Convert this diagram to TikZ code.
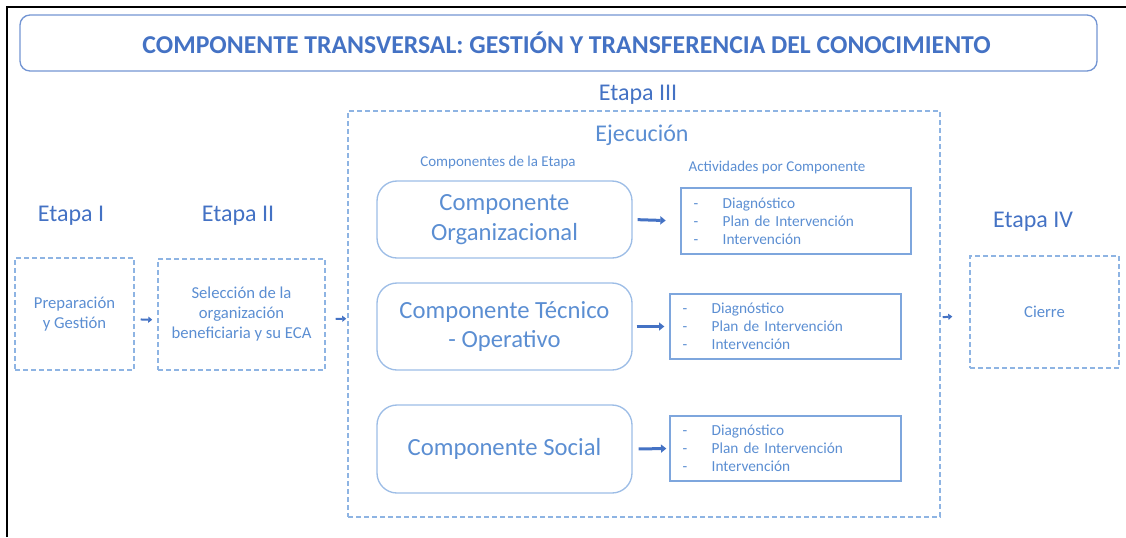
\documentclass[tikz,border=0pt]{standalone}
\usepackage{fontspec}
\setmainfont{Carlito}
\usetikzlibrary{arrows.meta}
\definecolor{ofblue}{HTML}{4472C4}
\definecolor{txblue}{HTML}{5B8ED2}
\definecolor{dashblue}{HTML}{8EB4E3}
\definecolor{lineblue}{HTML}{9DBDE6}
\definecolor{actblue}{HTML}{7EA6DD}
\tikzset{
  stagebox/.style={draw=dashblue,line width=1.1pt,dash pattern=on 3.75pt off 2.25pt,text=txblue,align=center,font=\fontsize{12.5}{15}\selectfont},
  compbox/.style={draw=lineblue,line width=1pt,rounded corners=15pt,minimum width=191.25pt,text=txblue,align=center,font=\fontsize{18.5}{22}\selectfont},
  actbox/.style={draw=actblue,line width=1pt,inner xsep=9.5pt,text=txblue,align=left,font=\fontsize{11.5}{13.5}\selectfont},
  stagelabel/.style={text=ofblue,font=\fontsize{18}{22}\selectfont},
  smalllabel/.style={text=txblue,font=\fontsize{11.25}{13}\selectfont},
  bigarrow/.style={ofblue,line width=2.25pt,-{Triangle[length=4pt,width=6pt]}},
  stagearrow/.style={ofblue,line width=1.5pt,-{Triangle[length=3pt,width=4.5pt]}}
}
\newcommand{\actlist}{\makebox[21.75pt][l]{-}Diagnóstico\\\makebox[21.75pt][l]{-}Plan de Intervención\\\makebox[21.75pt][l]{-}Intervención}
\begin{document}
\begin{tikzpicture}[x=0.75pt,y=-0.75pt]
\useasboundingbox (0,0) rectangle (1126,537);
\draw[line width=1.5pt] (7,537) -- (7,7) -- (1126,7);
\node[draw=ofblue!75,line width=1pt,rounded corners=7.5pt,minimum width=807.75pt,minimum height=42pt,text=ofblue,font=\bfseries\fontsize{19.3}{22}\selectfont] (title) at (558.5,43) {\hspace*{12pt}COMPONENTE TRANSVERSAL: GESTIÓN Y TRANSFERENCIA DEL CONOCIMIENTO};

\node[stagelabel] (l1) at (71,216) {Etapa I};
\node[stagelabel] (l2) at (238,216) {Etapa II};
\node[stagelabel] (l3) at (638,95) {Etapa III};
\node[stagelabel] (l4) at (1033,222) {Etapa IV};

\node[stagebox,minimum width=89.25pt,minimum height=84pt] (e1) at (74.5,314) {Preparación\\y Gestión};
\node[stagebox,minimum width=125.25pt,minimum height=83.25pt] (e2) at (241.5,314.5) {Selección de la\\organización\\beneficiaria y su ECA};
\node[stagebox,minimum width=444pt,minimum height=304.5pt] (e3) at (644,314) {};
\node[stagebox,minimum width=111.75pt,minimum height=84pt] (e4) at (1044.5,312) {Cierre};

\node[stagelabel,text=txblue] (ejec) at (642,135) {Ejecución};
\node[smalllabel] (lcomp) at (498,162) {Componentes de la Etapa};
\node[smalllabel] (lact) at (777,167) {Actividades por Componente};

\node[compbox,minimum height=57.75pt] (org) at (504.5,219.5) {Componente\\Organizacional};
\node[compbox,minimum height=65.25pt] (tec) at (504.5,326.5) {Componente Técnico\\- Operativo};
\node[compbox,minimum height=66pt] (soc) at (504.5,449) {Componente Social};

\node[actbox,text width=153.5pt,minimum height=49.5pt] (a1) at (796,221) {\actlist};
\node[actbox,text width=154.25pt,minimum height=48.75pt] (a2) at (785.5,326.5) {\actlist};
\node[actbox,text width=154.25pt,minimum height=48.75pt] (a3) at (785.5,448.5) {\actlist};

\draw[bigarrow,shorten <=3.75pt,shorten >=11pt] (org.east) -- (a1.west);
\draw[bigarrow,shorten <=3pt,shorten >=3.75pt] (tec.east) -- (a2.west);
\draw[bigarrow,shorten <=4.5pt,shorten >=2.25pt] (soc.east) -- (a3.west);

\draw[stagearrow,shorten <=4.5pt,shorten >=3.75pt] ([yshift=-4pt]e1.east) -- ([yshift=-4pt]e2.west);
\draw[stagearrow,shorten <=7.5pt,shorten >=0.75pt] ([yshift=-3.5pt]e2.east) -- ([yshift=-3.5pt]e3.west);
\draw[stagearrow,shorten <=1.5pt,shorten >=12.75pt] ([yshift=-2.5pt]e3.east) -- ([yshift=-2.5pt]e4.west);
\end{tikzpicture}
\end{document}
